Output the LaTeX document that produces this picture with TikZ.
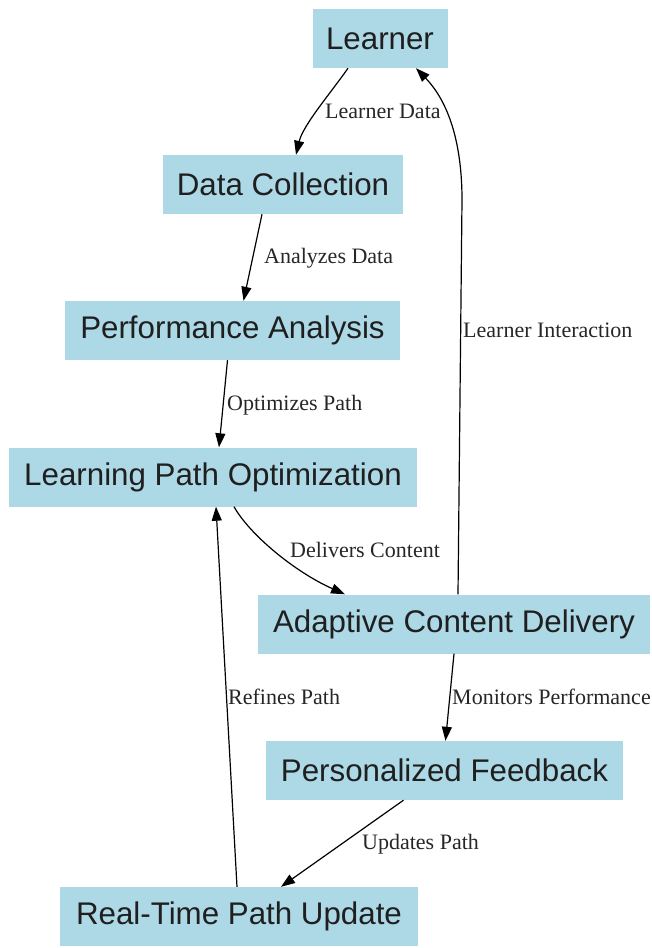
\documentclass[tikz,border=0pt]{standalone}
\usepackage{fontspec}
\setsansfont{Liberation Sans}
\setmainfont{Liberation Serif}
\usetikzlibrary{arrows.meta}
\definecolor{boxblue}{HTML}{ADD8E6}
\begin{document}
\begin{tikzpicture}[x=1pt,y=-1pt,
  box/.style={fill=boxblue, draw=none, minimum height=59pt, inner sep=0pt, anchor=center,
    font=\fontsize{31.3}{33}\selectfont\sffamily, text=black!88},
  elabel/.style={anchor=west, inner sep=0pt, font=\fontsize{22}{24}\selectfont\rmfamily, text=black!85},
  conn/.style={draw=black, line width=1.2pt, -{Triangle[length=14pt,width=10pt]}}]
\useasboundingbox (0,0) rectangle (651,948);
\node[box, minimum width=135pt] (learner) at (380,38.5) {Learner};
\node[box, minimum width=240pt] (dc) at (283,184.5) {Data Collection};
\node[box, minimum width=335pt] (pa) at (232.5,330.5) {Performance Analysis};
\node[box, minimum width=408pt] (lpo) at (213,477) {Learning Path Optimization};
\node[box, minimum width=392pt] (acd) at (454,624) {Adaptive Content Delivery};
\node[box, minimum width=357pt] (pf) at (444.5,770.5) {Personalized Feedback};
\node[box, minimum width=358pt] (rtpu) at (239,916.5) {Real-Time Path Update};

\draw[conn] ([xshift=-32pt]learner.south) .. controls (333,90) and (303,125) .. ([xshift=13pt]dc.north);
\draw[conn] ([xshift=-21pt]dc.south) -- ([xshift=11pt]pa.north);
\draw[conn] ([xshift=-5pt]pa.south) -- ([xshift=6pt]lpo.north);
\draw[conn] ([xshift=21pt]lpo.south) .. controls (250,535) and (295,572) .. ([xshift=-109pt]acd.north);
\draw[conn] ([xshift=4pt]acd.north) -- (462,200) .. controls (462,130) and (442,95) .. ([xshift=36pt]learner.south);
\draw[conn] (acd.south) -- ([xshift=1pt]pf.north);
\draw[conn] ([xshift=-41pt]pf.south) -- ([xshift=42pt]rtpu.north);
\draw[conn] ([xshift=-2pt]rtpu.north) -- ([xshift=3pt]lpo.south);

\node[elabel] (l1) at (325,111) {Learner Data};
\node[elabel] (l2) at (264,258) {Analyzes Data};
\node[elabel] (l3) at (227,405) {Optimizes Path};
\node[elabel] (l4) at (290,550) {Delivers Content};
\node[elabel] (l5) at (463,330) {Learner Interaction};
\node[elabel] (l6) at (228,697) {Refines Path};
\node[elabel] (l7) at (452,697) {Monitors Performance};
\node[elabel] (l8) at (362,844) {Updates Path};
\end{tikzpicture}
\end{document}
